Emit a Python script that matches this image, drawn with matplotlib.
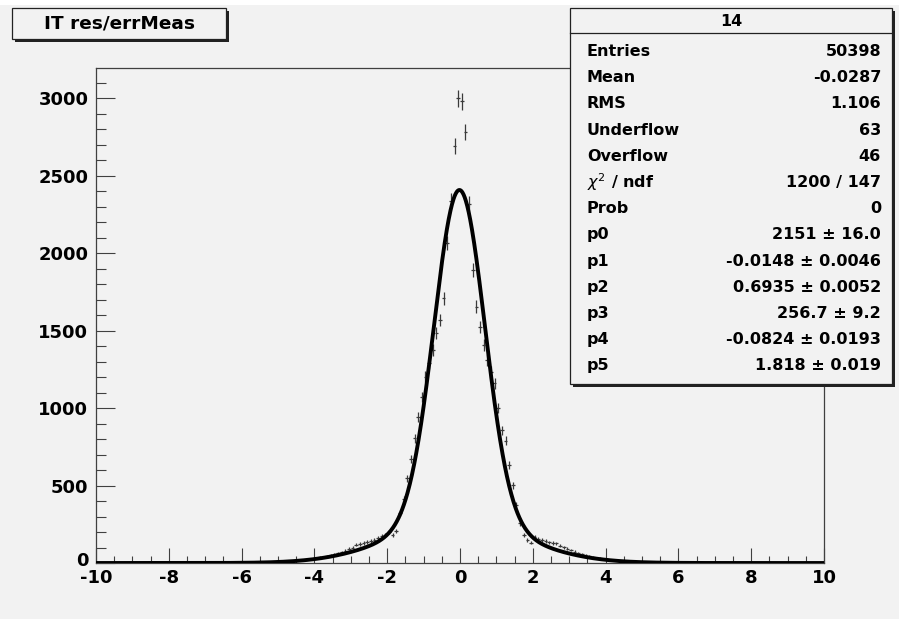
import numpy as np
import matplotlib.pyplot as plt
import matplotlib.transforms as mtransforms
from matplotlib.patches import Rectangle

plt.rcParams['axes.unicode_minus'] = False

# ------------------------------------------------------
#  Data (bin width 0.1)
# ------------------------------------------------------
bin_centers = np.round(np.arange(-5.95, 5.96, 0.1), 2)
counts = [2, 2, 3, 2, 4, 4, 5, 6, 6, 8,
          9, 10, 12, 13, 15, 17, 19, 22, 25, 28,
          32, 36, 40, 45, 51, 57, 63, 70, 80, 92,
          100, 118, 122, 130, 136, 140, 150, 160, 172, 182,
          200, 180, 205, 320, 410, 546, 669, 805, 944, 1073,
          1202, 1290, 1374, 1484, 1568, 1708, 2063, 2337, 2690, 3000,
          2980, 2780, 2320, 1890, 1654, 1525, 1406, 1310, 1235, 1159,
          998, 858, 790, 632, 503, 375, 256, 180, 150, 131,
          165, 155, 148, 140, 133, 130, 127, 112, 101, 92,
          84, 74, 66, 58, 52, 46, 40, 35, 31, 28,
          25, 22, 19, 17, 15, 13, 11, 10, 8, 7,
          6, 5, 4, 4, 3, 3, 2, 2, 2, 1]

# fit parameters (double gaussian) as shown in the stats box
fit_pars = [2151, -0.0148, 0.6935, 256.7, -0.0824, 1.818]

stat_labels = ['Entries', 'Mean', 'RMS', 'Underflow', 'Overflow', r'$\chi^2$ / ndf', 'Prob',
               'p0', 'p1', 'p2', 'p3', 'p4', 'p5']
stat_values = ['50398', '-0.0287', '1.106', '63', '46', '1200 / 147', '0',
               '2151 \u00b1 16.0', '-0.0148 \u00b1 0.0046', '0.6935 \u00b1 0.0052',
               '256.7 \u00b1 9.2', '-0.0824 \u00b1 0.0193', '1.818 \u00b1 0.019']

W, H = 899, 619
bg = '#f2f2f2'

def fx(px):
    return px / W

def fy(py):
    return 1 - py / H

fig = plt.figure(figsize=(W / 100, H / 100), dpi=100, facecolor=bg)
ax = fig.add_axes([fx(96), fy(563), fx(824) - fx(96), fy(68) - fy(563)])
ax.set_facecolor(bg)

counts = np.array(counts, dtype=float)
ax.errorbar(bin_centers, counts, yerr=np.sqrt(counts), xerr=0.05, fmt='none',
            ecolor='#3a3a3a', elinewidth=0.9, capsize=0, zorder=2)

xf = np.linspace(-10, 10, 2001)
p = fit_pars
yf = p[0] * np.exp(-0.5 * ((xf - p[1]) / p[2]) ** 2) + p[3] * np.exp(-0.5 * ((xf - p[4]) / p[5]) ** 2)
ax.plot(xf, yf, color='black', lw=2.8, zorder=3)

ax.set_xlim(-10, 10)
ax.set_ylim(0, 3195)
ax.set_xticks(np.arange(-10, 11, 2))
ax.set_xticks(np.arange(-10, 10.01, 0.5), minor=True)
ax.set_yticks(np.arange(0, 3001, 500))
ax.set_yticks(np.arange(0, 3195, 100), minor=True)
for s in ax.spines.values():
    s.set_color('#404040')
    s.set_linewidth(0.9)
ax.tick_params(axis='x', which='major', direction='in', length=10.8, width=0.8,
               color='#404040', pad=4, top=False)
ax.tick_params(axis='x', which='minor', direction='in', length=5, width=0.8,
               color='#404040', top=False)
ax.tick_params(axis='y', which='major', direction='in', length=13.5, width=0.8,
               color='#404040', pad=5.5, right=False)
ax.tick_params(axis='y', which='minor', direction='in', length=7, width=0.8,
               color='#404040', right=False)
for lab in ax.get_xticklabels() + ax.get_yticklabels():
    lab.set_fontsize(13)
    lab.set_fontweight('bold')
    lab.set_color('black')
    lab.set_family('DejaVu Sans')

# ROOT draws the "0" of the y axis a little higher, just above the x labels
zero_lab = ax.get_yticklabels()[0]
zero_lab.set_transform(zero_lab.get_transform() +
                       mtransforms.ScaledTranslation(0, 4 / 100, fig.dpi_scale_trans))

# white strip at the top of the screenshot
fig.patches.append(Rectangle((0, fy(5)), 1, 1 - fy(5), transform=fig.transFigure,
                             facecolor='white', edgecolor='none', zorder=0))

# boxes with a drop shadow
def shadow_box(x0, y0, x1, y1, z):
    fig.patches.append(Rectangle((fx(x0 + 3), fy(y1 + 3)), fx(x1) - fx(x0), fy(y0) - fy(y1),
                                 transform=fig.transFigure, facecolor='#222222',
                                 edgecolor='none', zorder=z))
    fig.patches.append(Rectangle((fx(x0), fy(y1)), fx(x1) - fx(x0), fy(y0) - fy(y1),
                                 transform=fig.transFigure, facecolor=bg,
                                 edgecolor='#222222', linewidth=0.9, zorder=z + 0.1))

# title box
shadow_box(12, 8, 226, 39, 10)
fig.text(fx(119), fy(24), 'IT res/errMeas', ha='center', va='center', fontsize=13.3,
         fontweight='bold', family='DejaVu Sans', zorder=11)

# stats box
shadow_box(570, 8, 892, 384, 10)
fig.add_artist(plt.Line2D([fx(570), fx(892)], [fy(33), fy(33)], color='#222222', lw=0.9, zorder=11))
fig.text(fx(731), fy(21), '14', ha='center', va='center', fontsize=11.5,
         fontweight='bold', family='DejaVu Sans', zorder=11)
for i in range(len(stat_labels)):
    yy = 51.5 + i * 26.2
    fig.text(fx(587), fy(yy), stat_labels[i], ha='left', va='center', fontsize=11.5,
             fontweight='bold', family='DejaVu Sans', zorder=11)
    fig.text(fx(881), fy(yy), stat_values[i], ha='right', va='center', fontsize=11.5,
             fontweight='bold', family='DejaVu Sans', zorder=11)

fig.savefig('out.png', dpi=100, facecolor=bg)
